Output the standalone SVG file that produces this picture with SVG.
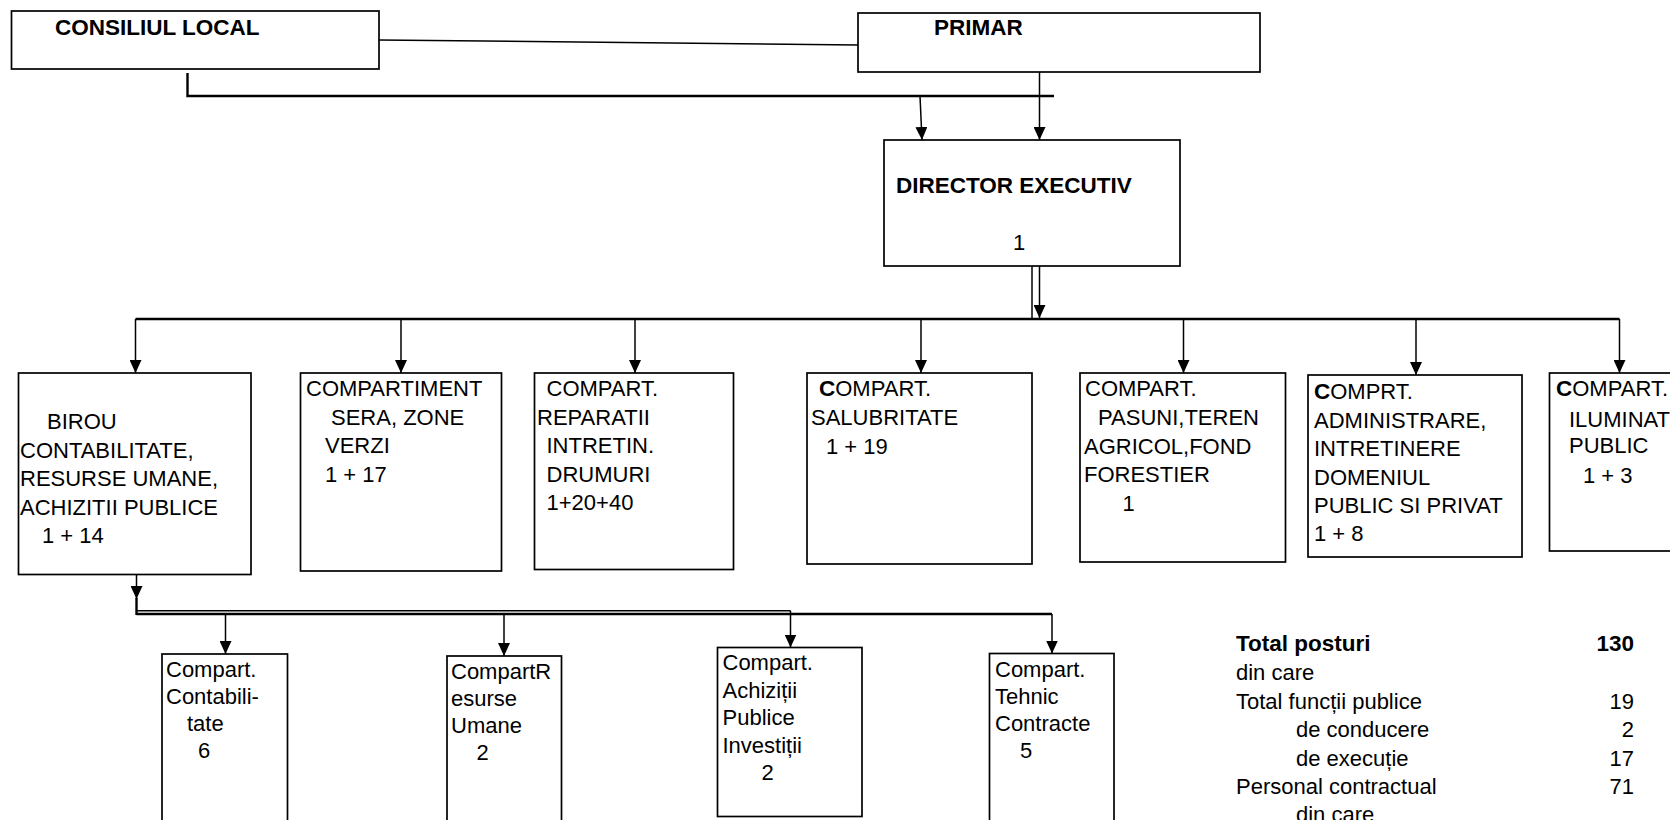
<svg xmlns="http://www.w3.org/2000/svg" width="1670" height="820" viewBox="0 0 1670 820">
<style>
.box{fill:#fff;stroke:#000;stroke-width:1.7}
.ln{fill:none;stroke:#000;stroke-width:1.5}
.th{fill:none;stroke:#000;stroke-width:2.4}
.ar{fill:none;stroke:#000;stroke-width:1.5;marker-end:url(#ah)}
.t{font-family:"Liberation Sans",Arial,sans-serif;font-size:22px;fill:#000}
.b{font-weight:bold;font-size:22.5px}
</style>
<defs>
<marker id="ah" markerUnits="userSpaceOnUse" markerWidth="13" markerHeight="12" viewBox="0 0 13 12" refX="13" refY="6" orient="auto">
<path d="M0,0 L13,6 L0,12 z" fill="#000"/>
</marker>
</defs>
<rect x="0" y="0" width="1670" height="820" fill="#fff"/>

<g id="connectors">
<line class="ln" x1="379" y1="40" x2="858" y2="45"/>
<polyline class="th" points="187.5,73 187.5,96 1054,96"/>
<line class="ar" x1="920" y1="96" x2="922" y2="140"/>
<line class="ar" x1="1039.5" y1="72" x2="1039.5" y2="140"/>
<line class="ln" x1="1032" y1="266" x2="1032" y2="319"/>
<line class="ar" x1="1039.5" y1="266" x2="1039.5" y2="318"/>
<line class="th" x1="135.5" y1="319" x2="1619.5" y2="319"/>
<line class="ar" x1="135.5" y1="319" x2="135.5" y2="373"/>
<line class="ar" x1="401" y1="319" x2="401" y2="373"/>
<line class="ar" x1="635" y1="319" x2="635" y2="373"/>
<line class="ar" x1="921" y1="319" x2="921" y2="373"/>
<line class="ar" x1="1183.5" y1="319" x2="1183.5" y2="373"/>
<line class="ar" x1="1416" y1="319" x2="1416" y2="375"/>
<line class="ar" x1="1619.5" y1="319" x2="1619.5" y2="373"/>
<line class="ar" x1="136.5" y1="574" x2="136.5" y2="599"/>
<line class="th" x1="136.5" y1="598" x2="136.5" y2="615"/>
<polyline class="ln" points="136.5,610.7 790.5,610.7"/>
<line class="ar" x1="790.5" y1="610.7" x2="790.5" y2="647.5"/>
<polyline class="th" points="136.5,614 1052,614"/>
<line class="ar" x1="1052" y1="614" x2="1052" y2="653.5"/>
<line class="ar" x1="225.5" y1="614" x2="225.5" y2="654"/>
<line class="ar" x1="504" y1="614" x2="504" y2="656"/>
</g>

<g id="consiliul-local">
<rect class="box" x="11.5" y="11" width="367.5" height="58"/>
<text class="t b" x="55" y="35">CONSILIUL LOCAL</text>
</g>

<g id="primar">
<rect class="box" x="858" y="13" width="402" height="59"/>
<text class="t b" x="934" y="35">PRIMAR</text>
</g>

<g id="director">
<rect class="box" x="884" y="140" width="296" height="126"/>
<text class="t b" x="896" y="193">DIRECTOR EXECUTIV</text>
<text class="t" x="1013" y="250">1</text>
</g>

<g id="birou">
<rect class="box" x="18.5" y="373" width="232.5" height="201.5"/>
<text class="t" x="47" y="429">BIROU</text>
<text class="t" x="20" y="457.5">CONTABILITATE,</text>
<text class="t" x="20" y="486">RESURSE UMANE,</text>
<text class="t" x="20" y="514.5">ACHIZITII PUBLICE</text>
<text class="t" x="42" y="543">1 + 14</text>
</g>

<g id="sera">
<rect class="box" x="300.5" y="373" width="201" height="198"/>
<text class="t" x="306" y="396">COMPARTIMENT</text>
<text class="t" x="331" y="425">SERA, ZONE</text>
<text class="t" x="325" y="453">VERZI</text>
<text class="t" x="325" y="482">1 + 17</text>
</g>

<g id="reparatii">
<rect class="box" x="534.5" y="373" width="199" height="196.5"/>
<text class="t" x="546.5" y="396">COMPART.</text>
<text class="t" x="537" y="424.5">REPARATII</text>
<text class="t" x="546.5" y="453">INTRETIN.</text>
<text class="t" x="546.5" y="481.5">DRUMURI</text>
<text class="t" x="546.5" y="510">1+20+40</text>
</g>

<g id="salubritate">
<rect class="box" x="807" y="373" width="225" height="191"/>
<text class="t" x="819" y="396"><tspan class="b">C</tspan>OMPART.</text>
<text class="t" x="811" y="425">SALUBRITATE</text>
<text class="t" x="826" y="454">1 + 19</text>
</g>

<g id="pasuni">
<rect class="box" x="1080" y="373" width="205.5" height="189"/>
<text class="t" x="1085" y="396">COMPART.</text>
<text class="t" x="1098" y="425">PASUNI,TEREN</text>
<text class="t" x="1084" y="453.5">AGRICOL,FOND</text>
<text class="t" x="1084" y="482">FORESTIER</text>
<text class="t" x="1122.5" y="511">1</text>
</g>

<g id="administrare">
<rect class="box" x="1308" y="375" width="214" height="182"/>
<text class="t" x="1314" y="399"><tspan class="b">C</tspan>OMPRT.</text>
<text class="t" x="1314" y="428">ADMINISTRARE,</text>
<text class="t" x="1314" y="456">INTRETINERE</text>
<text class="t" x="1314" y="484.5">DOMENIUL</text>
<text class="t" x="1314" y="513">PUBLIC SI PRIVAT</text>
<text class="t" x="1314" y="541">1 + 8</text>
</g>

<g id="iluminat">
<rect class="box" x="1549.5" y="373" width="140" height="178"/>
<text class="t" x="1556" y="396"><tspan class="b">C</tspan>OMPART.</text>
<text class="t" x="1569" y="426.5">ILUMINAT</text>
<text class="t" x="1569" y="453">PUBLIC</text>
<text class="t" x="1583" y="483">1 + 3</text>
</g>

<g id="contabilitate">
<rect class="box" x="162" y="654" width="125.5" height="180"/>
<text class="t" x="166" y="677">Compart.</text>
<text class="t" x="166" y="704">Contabili-</text>
<text class="t" x="187" y="731">tate</text>
<text class="t" x="198" y="758">6</text>
</g>

<g id="resurse-umane">
<rect class="box" x="447" y="656" width="114.5" height="180"/>
<text class="t" x="451" y="679">CompartR</text>
<text class="t" x="451" y="706">esurse</text>
<text class="t" x="451" y="733">Umane</text>
<text class="t" x="476.5" y="760">2</text>
</g>

<g id="achizitii">
<rect class="box" x="717.5" y="647.5" width="144.5" height="169"/>
<text class="t" x="722.5" y="670">Compart.</text>
<text class="t" x="722.5" y="697.5">Achiziții</text>
<text class="t" x="722.5" y="725">Publice</text>
<text class="t" x="722.5" y="752.5">Investiții</text>
<text class="t" x="761.5" y="780">2</text>
</g>

<g id="tehnic">
<rect class="box" x="989.5" y="653.5" width="124.5" height="180"/>
<text class="t" x="995" y="676.5">Compart.</text>
<text class="t" x="995" y="703.5">Tehnic</text>
<text class="t" x="995" y="730.5">Contracte</text>
<text class="t" x="1020" y="757.5">5</text>
</g>

<g id="totals">
<text class="t b" x="1236" y="651">Total posturi</text>
<text class="t b" x="1634" y="651" text-anchor="end">130</text>
<text class="t" x="1236" y="680">din care</text>
<text class="t" x="1236" y="708.5">Total funcții publice</text>
<text class="t" x="1634" y="708.5" text-anchor="end">19</text>
<text class="t" x="1296" y="737">de conducere</text>
<text class="t" x="1634" y="737" text-anchor="end">2</text>
<text class="t" x="1296" y="765.5">de execuție</text>
<text class="t" x="1634" y="765.5" text-anchor="end">17</text>
<text class="t" x="1236" y="794">Personal contractual</text>
<text class="t" x="1634" y="794" text-anchor="end">71</text>
<text class="t" x="1296" y="821.5">din care</text>
</g>
</svg>
